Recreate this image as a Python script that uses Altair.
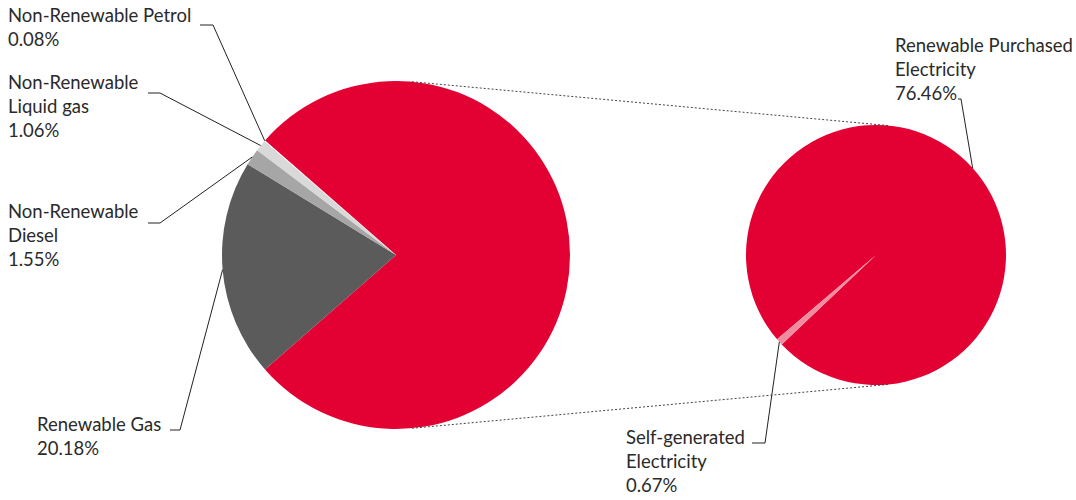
import math
import altair as alt
import pandas as pd

# ---------------- data ----------------
right_categories = ["Renewable Purchased Electricity", "Self-generated Electricity"]
right_values = [76.46, 0.67]

left_categories = ["Renewable Electricity", "Renewable Gas", "Non-Renewable Diesel",
                   "Non-Renewable Liquid gas", "Non-Renewable Petrol"]
left_values = [round(sum(right_values), 2), 20.18, 1.55, 1.06, 0.08]

# ---------------- styles / layout ----------------
W, H = 1076, 500
LC, LR = (396.0, 255.0), 174.0
RC, RR = (876.0, 255.0), 130.0
left_colors = ["#E30032", "#5B5B5B", "#A6A6A6", "#D9D9D9", "#F2F2F2"]
right_colors = ["#E30032", "#F08CA0"]
right_rotation_deg = -130.4
FONT = "Lato"

# label wrapping and anchor (text x, first baseline y, leader start x, elbow x, elbow y)
label_layout = {
    "Non-Renewable Petrol": ("Non-Renewable Petrol", 8, 22, 200, 213, 25),
    "Non-Renewable Liquid gas": ("Non-Renewable\nLiquid gas", 8, 89, 148, 160, 93),
    "Non-Renewable Diesel": ("Non-Renewable\nDiesel", 8, 218, 148, 160, 223),
    "Renewable Gas": ("Renewable Gas", 37, 431, 170, 180, 430),
    "Renewable Purchased Electricity": ("Renewable Purchased\nElectricity", 895, 52, 958, 961, 99),
    "Self-generated Electricity": ("Self-generated\nElectricity", 626, 444, 752, 765, 443),
}

# ---------------- geometry from data ----------------
left_total = sum(left_values)
left_start = math.radians(90) - math.pi * left_values[0] / left_total
right_start = math.radians(right_rotation_deg)


def mids(values, start):
    tot = sum(values)
    out, acc = [], start
    for v in values:
        a = 2 * math.pi * v / tot
        out.append(acc + a / 2)
        acc += a
    return out


def polar(c, r, ang):
    return (c[0] + r * math.sin(ang), c[1] - r * math.cos(ang))


left_mid = dict(zip(left_categories, mids(left_values, left_start)))
right_mid = dict(zip(right_categories, mids(right_values, right_start)))

left_df = pd.DataFrame({"category": left_categories, "value": left_values,
                        "order": list(range(len(left_values)))})
right_df = pd.DataFrame({"category": right_categories, "value": right_values,
                         "order": list(range(len(right_values)))})

# leader lines and labels
segs, labels = [], []
for cat, (wrapped, tx, ty, sx, ex, ey) in label_layout.items():
    if cat in left_mid:
        px, py = polar(LC, LR, left_mid[cat])
        val = left_values[left_categories.index(cat)]
    else:
        px, py = polar(RC, RR, right_mid[cat])
        val = right_values[right_categories.index(cat)]
    segs.append({"x": sx, "y": ey, "x2": ex, "y2": ey})
    segs.append({"x": ex, "y": ey, "x2": px, "y2": py})
    labels.append({"x": tx, "y": ty, "text": f"{wrapped}\n{val:.2f}%"})
seg_df = pd.DataFrame(segs)
lab_df = pd.DataFrame(labels)

# external tangents between the two pies (dotted connectors)
d = RC[0] - LC[0]
phi = math.asin((LR - RR) / d)
conn = []
for ang in (phi, math.pi - phi):
    x1, y1 = polar(LC, LR, ang)
    x2, y2 = polar(RC, RR, ang)
    conn.append({"x": x1, "y": y1, "x2": x2, "y2": y2})
conn_df = pd.DataFrame(conn)

xs = alt.Scale(domain=[0, W], range=[0, W])
ys = alt.Scale(domain=[0, H], range=[0, H])

left_pie = alt.Chart(left_df).mark_arc(outerRadius=LR).encode(
    theta=alt.Theta("value:Q", stack=True,
                    scale=alt.Scale(range=[left_start, left_start + 2 * math.pi])),
    color=alt.Color("category:N", legend=None,
                    scale=alt.Scale(domain=left_categories, range=left_colors)),
    order=alt.Order("order:Q"),
    x=alt.value(LC[0]), y=alt.value(LC[1]),
)

right_pie = alt.Chart(right_df).mark_arc(outerRadius=RR).encode(
    theta=alt.Theta("value:Q", stack=True,
                    scale=alt.Scale(range=[right_start, right_start + 2 * math.pi])),
    color=alt.Color("category:N", legend=None,
                    scale=alt.Scale(domain=right_categories, range=right_colors)),
    order=alt.Order("order:Q"),
    x=alt.value(RC[0]), y=alt.value(RC[1]),
)

connectors = alt.Chart(conn_df).mark_rule(color="#444", strokeWidth=1, strokeDash=[2, 2]).encode(
    x=alt.X("x:Q", scale=xs, axis=None), y=alt.Y("y:Q", scale=ys, axis=None),
    x2="x2:Q", y2="y2:Q",
)

leaders = alt.Chart(seg_df).mark_rule(color="#222", strokeWidth=1).encode(
    x=alt.X("x:Q", scale=xs, axis=None), y=alt.Y("y:Q", scale=ys, axis=None),
    x2="x2:Q", y2="y2:Q",
)

text = alt.Chart(lab_df).mark_text(align="left", baseline="alphabetic", lineBreak="\n",
                                   lineHeight=24, fontSize=18.5, font=FONT, fontWeight="normal",
                                   color="#2a2a2a").encode(
    x=alt.X("x:Q", scale=xs, axis=None), y=alt.Y("y:Q", scale=ys, axis=None),
    text="text:N",
)

chart = alt.layer(left_pie, right_pie, connectors, leaders, text).resolve_scale(
    theta="independent", color="independent"
).properties(width=W, height=H, padding=0, autosize="none").configure_view(stroke=None)

chart.save("out.html", embed_options={"renderer": "svg", "actions": False})
